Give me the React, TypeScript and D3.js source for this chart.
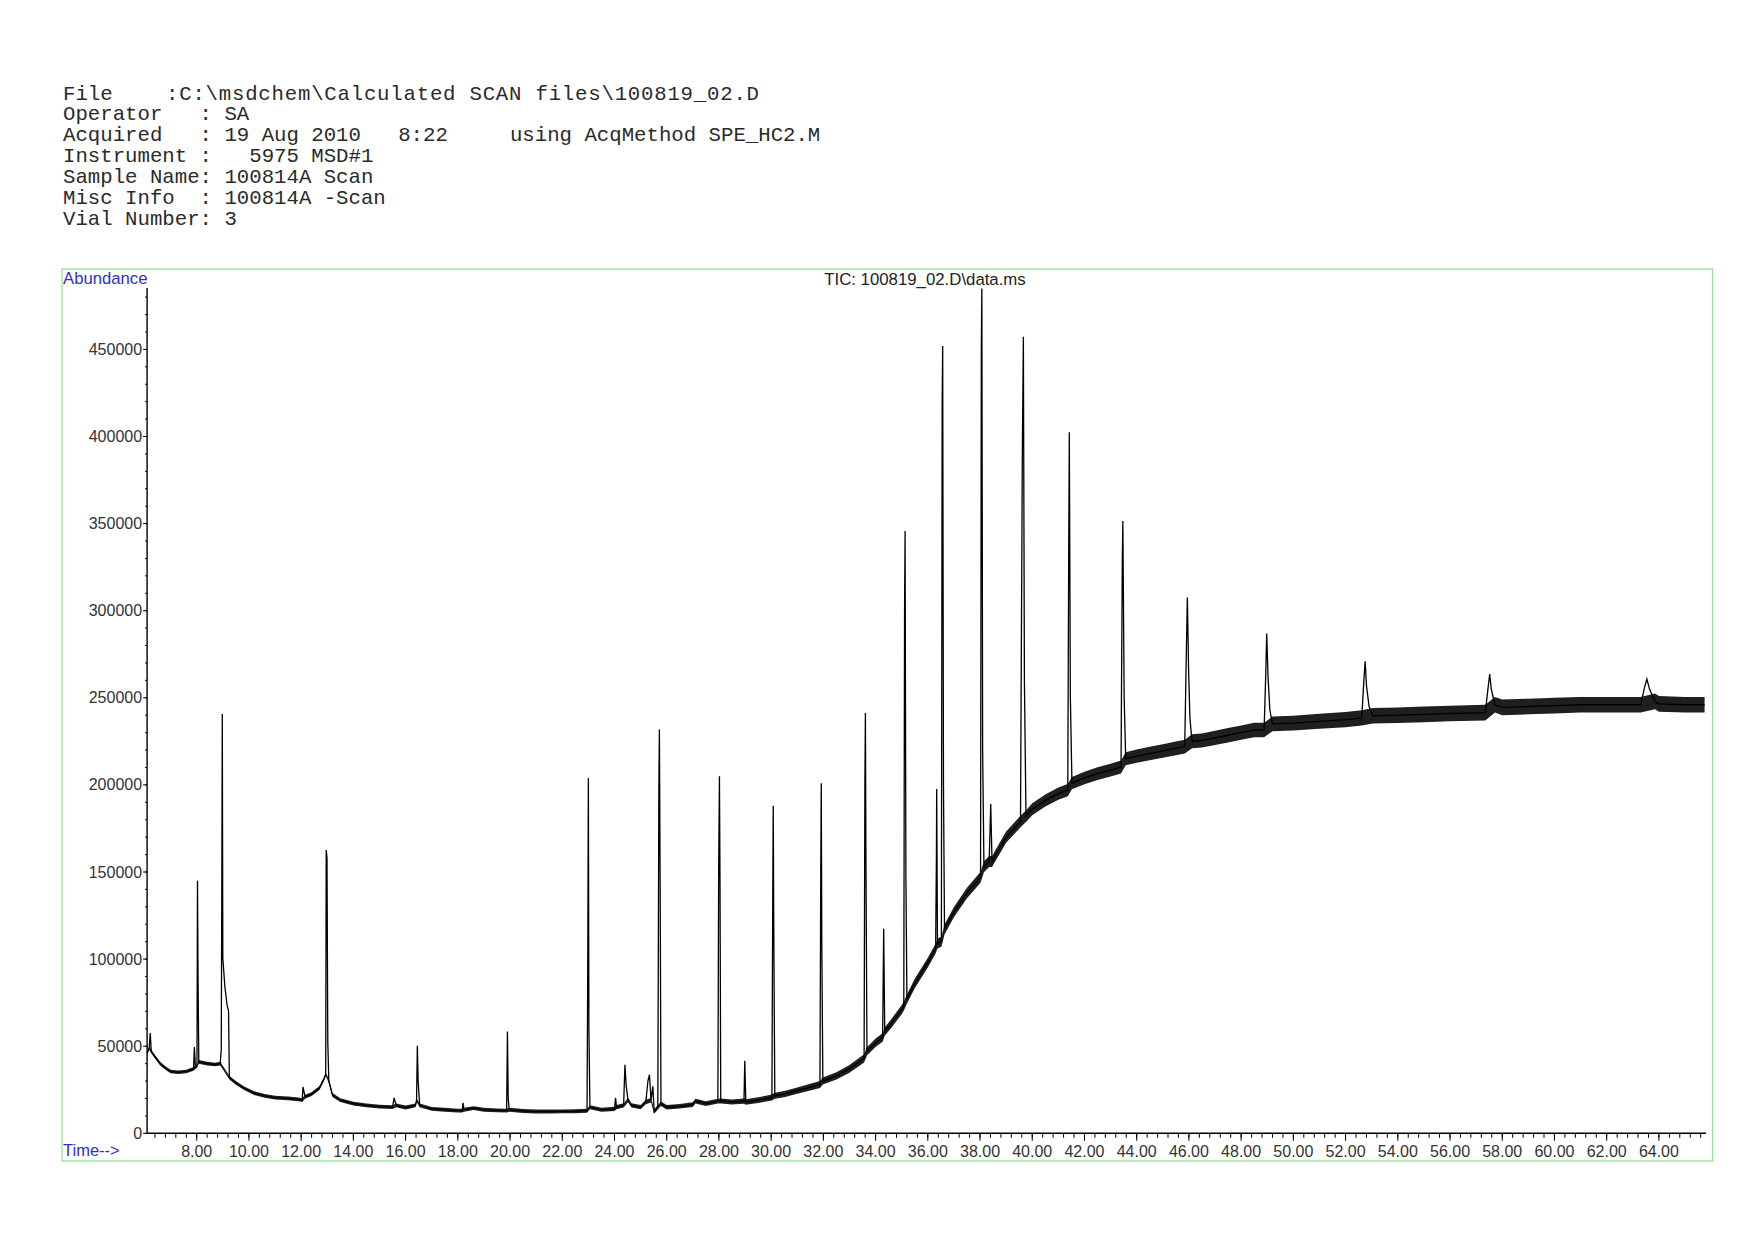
import React from "react";
import * as d3 from "d3";

// ---- header text (report block) ----
const fileLabel = "File";
const filePath = ":C:\\msdchem\\Calculated SCAN files\\100819_02.D";
const headerLines: string[] = [
  "Operator   : SA",
  "Acquired   : 19 Aug 2010   8:22     using AcqMethod SPE_HC2.M",
  "Instrument :   5975 MSD#1",
  "Sample Name: 100814A Scan",
  "Misc Info  : 100814A -Scan",
  "Vial Number: 3",
];

const chartTitle = "TIC: 100819_02.D\\data.ms";
const yAxisLabel = "Abundance";
const xAxisLabel = "Time-->";

// ---- axes ----
const timeDomain: [number, number] = [6.1, 65.8];
const abundanceDomain: [number, number] = [0, 485250];
const yMajorTicks = [0, 50000, 100000, 150000, 200000, 250000, 300000, 350000, 400000, 450000];
const xMajorTicks = [8, 10, 12, 14, 16, 18, 20, 22, 24, 26, 28, 30, 32, 34, 36, 38, 40, 42, 44, 46, 48, 50, 52, 54, 56, 58, 60, 62, 64];

// ---- TIC trace: [retention time (min), abundance, 'p' = peak sample] ----
const tic: Array<[number, number, string?]> = [
  [6.10, 46000], [6.18, 49000], [6.22, 57500, "p"], [6.26, 47000], [6.40, 44000], [6.60, 40000],
  [6.80, 37500], [7.00, 35500], [7.30, 35000], [7.60, 35500], [7.88, 37000], [7.91, 49500, "p"],
  [7.95, 38000], [8.01, 38500], [8.03, 145000, "p"], [8.05, 92000, "p"], [8.08, 41000], [8.40, 40000],
  [8.70, 39500], [8.90, 40000], [8.94, 48000, "p"], [8.96, 136000, "p"], [8.98, 240700, "p"],
  [9.00, 100500, "p"], [9.08, 84000, "p"], [9.16, 74000, "p"], [9.22, 70000, "p"], [9.25, 32000],
  [9.50, 29000], [9.80, 26000], [10.20, 23000], [10.60, 21500], [11.00, 20500], [11.50, 20000],
  [11.90, 19500], [12.04, 19000], [12.07, 26600, "p"], [12.15, 21000], [12.40, 22500], [12.70, 26000],
  [12.90, 32000], [12.94, 34000], [12.96, 162600, "p"], [12.99, 158000, "p"], [13.02, 52700, "p"],
  [13.06, 30000], [13.20, 22000], [13.50, 19000], [14.00, 17000], [14.50, 16000], [15.00, 15300],
  [15.50, 15000], [15.56, 20300, "p"], [15.64, 16000], [16.00, 14800], [16.38, 16000], [16.42, 19000],
  [16.45, 50200, "p"], [16.48, 30000, "p"], [16.54, 16000], [17.00, 14000], [17.50, 13500], [18.00, 13000],
  [18.17, 13000], [18.20, 17500, "p"], [18.24, 13500], [18.60, 14500], [19.00, 13500], [19.50, 13200],
  [19.87, 13000], [19.90, 58400, "p"], [19.93, 20000, "p"], [19.97, 13500], [20.50, 12800], [21.00, 12500],
  [21.50, 12500], [22.00, 12600], [22.50, 12700], [22.95, 13000], [22.98, 111000, "p"], [23.00, 204000, "p"],
  [23.02, 60000, "p"], [23.06, 15000], [23.50, 13500], [24.00, 14000], [24.04, 20300, "p"], [24.08, 15000],
  [24.35, 16000], [24.40, 39300, "p"], [24.45, 27000, "p"], [24.52, 19000], [24.65, 16000], [25.00, 15000],
  [25.20, 18000], [25.28, 30000, "p"], [25.34, 33600, "p"], [25.40, 19000], [25.47, 27000, "p"],
  [25.52, 12500], [25.66, 15000], [25.70, 200000, "p"], [25.72, 231800, "p"], [25.75, 140000, "p"],
  [25.78, 17000], [26.00, 15000], [26.50, 15500], [27.00, 16500], [27.10, 18500], [27.50, 17000],
  [27.96, 18500], [27.99, 150000, "p"], [28.02, 205000, "p"], [28.04, 150000, "p"], [28.07, 18500],
  [28.50, 18000], [28.96, 18500], [28.99, 41600, "p"], [29.03, 18000], [29.50, 19000], [30.03, 20500],
  [30.06, 130000, "p"], [30.08, 188100, "p"], [30.10, 120000, "p"], [30.14, 21600], [30.50, 22500],
  [31.00, 24500], [31.50, 26500], [31.87, 28000], [31.90, 150000, "p"], [31.92, 200900, "p"],
  [31.94, 110000, "p"], [31.98, 30000], [32.50, 33000], [33.00, 37000], [33.56, 43000],
  [33.59, 200000, "p"], [33.61, 241300, "p"], [33.63, 160000, "p"], [33.67, 47000], [34.00, 52000],
  [34.27, 55000], [34.31, 117400, "p"], [34.35, 58400], [34.60, 63000], [35.00, 71000], [35.08, 73000],
  [35.11, 300000, "p"], [35.13, 345800, "p"], [35.16, 150000, "p"], [35.20, 77000], [35.50, 86000],
  [36.00, 98000], [36.30, 106000], [36.33, 160000, "p"], [36.34, 197700, "p"], [36.37, 109000],
  [36.52, 110000], [36.55, 420000, "p"], [36.57, 451900, "p"], [36.60, 200000, "p"], [36.64, 117000],
  [37.00, 127000], [37.50, 138000], [38.02, 147000], [38.05, 450000, "p"], [38.07, 485000, "p"],
  [38.10, 220000, "p"], [38.15, 153000], [38.35, 156000], [38.41, 189000, "p"], [38.46, 156000],
  [39.00, 170000], [39.55, 179000], [39.62, 390000, "p"], [39.66, 457300, "p"], [39.70, 260000, "p"],
  [39.76, 182000], [40.00, 186000], [40.50, 191000], [41.00, 195000], [41.36, 197000],
  [41.40, 346000, "p"], [41.42, 402500, "p"], [41.46, 250000, "p"], [41.52, 201000], [42.00, 204000],
  [42.50, 206500], [43.00, 208500], [43.40, 210300], [43.45, 330000, "p"], [43.47, 351500, "p"],
  [43.52, 250000, "p"], [43.58, 215000], [44.00, 216500], [44.50, 218000], [45.00, 219500],
  [45.50, 221000], [45.84, 222000], [45.90, 275000, "p"], [45.94, 307600, "p"], [45.99, 265000, "p"],
  [46.04, 238000, "p"], [46.12, 225000], [46.50, 225500], [47.00, 227000], [47.50, 228500],
  [48.00, 230000], [48.50, 231500], [48.88, 231500], [48.94, 262000, "p"], [48.98, 286900, "p"],
  [49.03, 262000, "p"], [49.10, 243000, "p"], [49.20, 235000], [50.00, 235500], [51.00, 236500],
  [52.00, 237500], [52.62, 238500], [52.70, 260000, "p"], [52.75, 270900, "p"], [52.80, 257000, "p"],
  [52.90, 245000, "p"], [53.05, 239700], [54.00, 240000], [55.00, 240500], [56.00, 241000],
  [57.35, 241500], [57.46, 256000, "p"], [57.52, 263600, "p"], [57.58, 255000, "p"], [57.72, 246000],
  [58.00, 244500], [59.00, 245000], [60.00, 245500], [61.00, 246000], [62.00, 246000], [63.30, 246000],
  [63.45, 256000, "p"], [63.54, 260800, "p"], [63.64, 255000, "p"], [63.85, 248000], [64.00, 246500],
  [65.00, 246000], [65.75, 246000],
];

// half-height of the detector noise band
const noiseTimes = [6.1, 12, 22, 28, 32, 36, 40, 46, 54, 65.8];
const noiseHalf = [1000, 1100, 1100, 1400, 2000, 2800, 3400, 4000, 4500, 4500];

const W = 1754;
const H = 1240;

export default function App() {
  const x = d3.scaleLinear().domain(timeDomain).range([147.1, 1705.9]);
  const y = d3.scaleLinear().domain(abundanceDomain).range([1133.3, 288]);
  const noise = d3.scaleLinear().domain(noiseTimes).range(noiseHalf).clamp(true);

  const line = d3
    .line<[number, number, string?]>()
    .x((d) => x(d[0]))
    .y((d) => y(d[1]));

  const base = tic.filter((d) => !d[2]);
  const band = d3
    .area<[number, number, string?]>()
    .x((d) => x(d[0]))
    .y0((d) => y(d[1] - noise(d[0])))
    .y1((d) => y(d[1] + noise(d[0])));

  const xMinor = d3.range(16, 165).map((i) => +(i * 0.4).toFixed(2)).filter((t) => t <= timeDomain[1]);
  const yMinor = d3.range(0, 49).map((i) => i * 10000).filter((v) => v <= abundanceDomain[1]);
  const fmtX = d3.format(".2f");

  const sans = "'Liberation Sans', Arial, sans-serif";
  const mono = "'Liberation Mono', 'Courier New', monospace";
  const blue = "#3030c8";
  const gray = "#333";
  const x0 = x(timeDomain[0]);
  const yBase = y(0);
  const headTop = 99.5;
  const headStep = 20.85;
  const headSize = 20.7;

  return (
    <svg
      width={W}
      height={H}
      style={{ position: "absolute", left: 0, top: 0, background: "#fff" }}
    >
      <rect x={0} y={0} width={W} height={H} fill="#fff" />
      <text x={63} y={headTop} fontFamily={mono} fontSize={headSize} fill="#2a2a2a">
        {fileLabel}
      </text>
      <text
        x={166}
        y={headTop}
        fontFamily={mono}
        fontSize={headSize}
        fill="#2a2a2a"
        textLength={593}
        lengthAdjust="spacing"
      >
        {filePath}
      </text>
      {headerLines.map((s, i) => (
        <text
          key={i}
          x={63}
          y={headTop + (i + 1) * headStep}
          fontFamily={mono}
          fontSize={headSize}
          fill="#2a2a2a"
          style={{ whiteSpace: "pre" }}
          xmlSpace="preserve"
        >
          {s}
        </text>
      ))}

      <rect x={62} y={269} width={1650.6} height={892} fill="none" stroke="#98e298" strokeWidth={1.3} />

      <text x={63} y={284} fontFamily={sans} fontSize={16.7} fill={blue}>
        {yAxisLabel}
      </text>
      <text x={63} y={1156} fontFamily={sans} fontSize={16.5} fill={blue}>
        {xAxisLabel}
      </text>
      <text x={925} y={285} fontFamily={sans} fontSize={16.8} fill="#222" textAnchor="middle">
        {chartTitle}
      </text>

      {/* y axis */}
      <line x1={x0} x2={x0} y1={y(abundanceDomain[1])} y2={yBase} stroke="#000" strokeWidth={1.4} />
      {yMinor.map((v) => (
        <line key={"ym" + v} x1={x0 - 2} x2={x0} y1={y(v)} y2={y(v)} stroke="#000" strokeWidth={1} />
      ))}
      {yMajorTicks.map((v) => (
        <g key={"yM" + v}>
          <line x1={x0 - 4} x2={x0} y1={y(v)} y2={y(v)} stroke="#000" strokeWidth={1} />
          <text x={x0 - 5} y={y(v) + 5.5} fontFamily={sans} fontSize={16} fill={gray} textAnchor="end">
            {v}
          </text>
        </g>
      ))}

      {/* x axis */}
      <line x1={x0} x2={x(timeDomain[1])} y1={yBase} y2={yBase} stroke="#000" strokeWidth={1.4} />
      {xMinor.map((t) => (
        <line key={"xm" + t} x1={x(t)} x2={x(t)} y1={yBase} y2={yBase + 4.5} stroke="#000" strokeWidth={1} />
      ))}
      {xMajorTicks.map((t) => (
        <g key={"xM" + t}>
          <line x1={x(t)} x2={x(t)} y1={yBase} y2={yBase + 7.5} stroke="#000" strokeWidth={1} />
          <text x={x(t)} y={1156.5} fontFamily={sans} fontSize={16} fill={gray} textAnchor="middle">
            {fmtX(t)}
          </text>
        </g>
      ))}

      {/* trace */}
      <path d={band(base) || ""} fill="#000" fillOpacity={0.88} stroke="none" />
      <path d={line(tic) || ""} fill="none" stroke="#000" strokeWidth={1.3} strokeLinejoin="miter" />
    </svg>
  );
}
